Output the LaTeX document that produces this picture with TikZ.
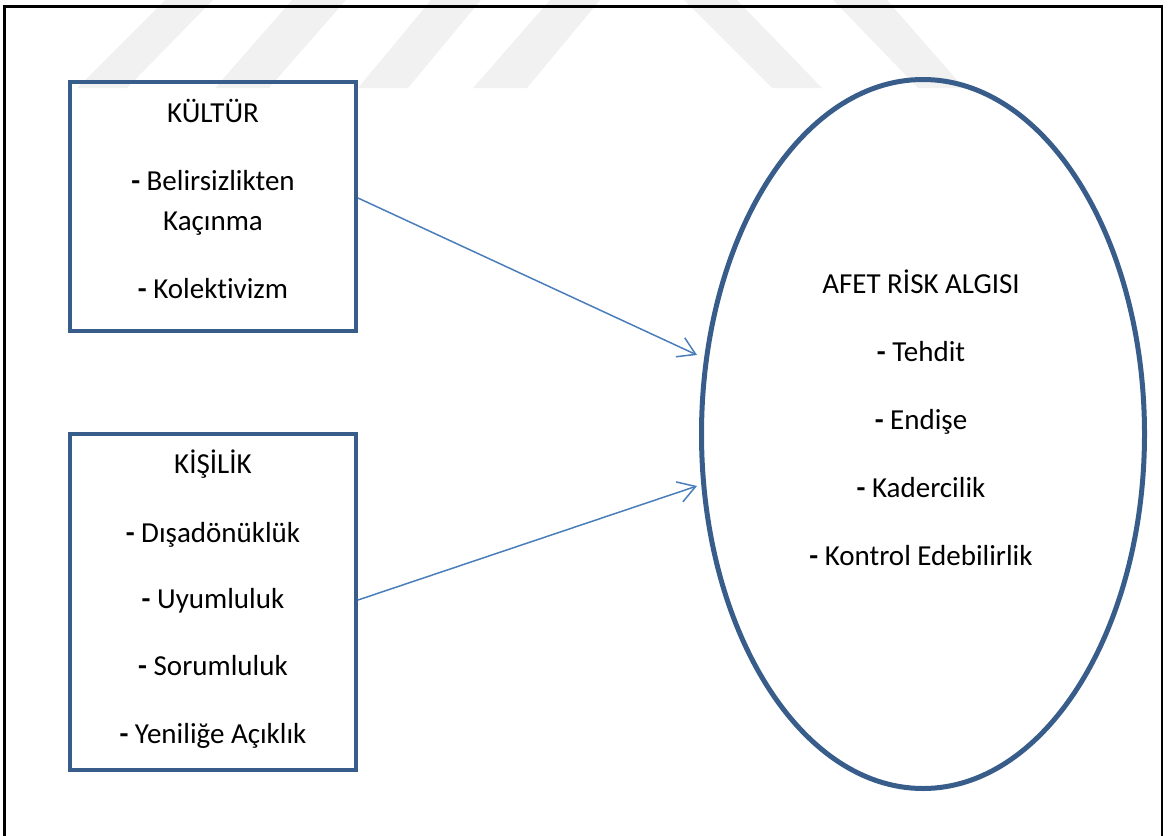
\documentclass[tikz,border=0pt]{standalone}
\usepackage{fontspec}
\setmainfont{Carlito}[Ligatures={NoCommon,NoRare,NoContextual}]
\usetikzlibrary{shapes.geometric,arrows.meta}
\definecolor{boxblue}{RGB}{56,93,138}
\definecolor{arrowblue}{RGB}{74,126,187}
\definecolor{wmgray}{RGB}{241,241,241}
\tikzset{
  boxnode/.style={draw=boxblue,line width=4pt,rectangle,inner sep=0pt,fill=none},
  txt/.style={anchor=base,inner sep=0pt,font=\fontsize{29}{34}\selectfont},
  conn/.style={draw=arrowblue,line width=1.5pt,-{Straight Barb[length=17pt,width=21pt,line width=1.5pt]}},
  wm/.style={fill=wmgray,draw=none}
}
\newcommand{\dsh}{\textbf{-}}
\begin{document}
\begin{tikzpicture}[x=1pt,y=-1pt]
\useasboundingbox (0,0) rectangle (1172,835);
% watermark stripes
\fill[wm] (165,0) -- (213,0) -- (127,88) -- (77,88) -- cycle;
\fill[wm] (292,0) -- (346,0) -- (269,88) -- (215,88) -- cycle;
\fill[wm] (431,0) -- (481,0) -- (408,88) -- (358,88) -- cycle;
\fill[wm] (550,0) -- (600,0) -- (527,88) -- (473,88) -- cycle;
\fill[wm] (684,0) -- (737,0) -- (822,88) -- (772,88) -- cycle;
\fill[wm] (833,0) -- (887,0) -- (964,88) -- (918,88) -- cycle;
% frame
\draw[black,line width=2.2pt] (4.5,840) -- (4.5,6.5) -- (1162,6.5) -- (1162,840);
% boxes
\node[boxnode,minimum width=286pt,minimum height=249pt] (kultur) at (213,206.5) {};
\node[boxnode,minimum width=286pt,minimum height=336pt] (kisilik) at (213,602) {};
\node[draw=boxblue,line width=5pt,ellipse,inner sep=0pt,minimum width=443pt,minimum height=709pt] (risk) at (923,434) {};
% texts box 1
\node[txt] (k0) at (213,122) {KÜLTÜR};
\node[txt] (k1) at (213,190) {\dsh{} Belirsizlikten};
\node[txt] (k2) at (213,230) {Kaçınma};
\node[txt] (k3) at (213,298) {\dsh{} Kolektivizm};
% texts box 2
\node[txt] (p0) at (213,473) {KİŞİLİK};
\node[txt] (p1) at (213,542) {\dsh{} Dışadönüklük};
\node[txt] (p2) at (213,608) {\dsh{} Uyumluluk};
\node[txt] (p3) at (213,675) {\dsh{} Sorumluluk};
\node[txt] (p4) at (213,743) {\dsh{} Yeniliğe Açıklık};
% texts ellipse
\node[txt] (r0) at (921,293) {AFET RİSK ALGISI};
\node[txt] (r1) at (921,361) {\dsh{} Tehdit};
\node[txt] (r2) at (921,429) {\dsh{} Endişe};
\node[txt] (r3) at (921,497) {\dsh{} Kadercilik};
\node[txt] (r4) at (921,565) {\dsh{} Kontrol Edebilirlik};
% connectors
\coordinate (t1) at (697,355);
\coordinate (t2) at (697,486);
\draw[conn] ([yshift=8.5pt]kultur.east) -- (t1);
\draw[conn] ([yshift=2pt]kisilik.east) -- (t2);
\end{tikzpicture}
\end{document}
